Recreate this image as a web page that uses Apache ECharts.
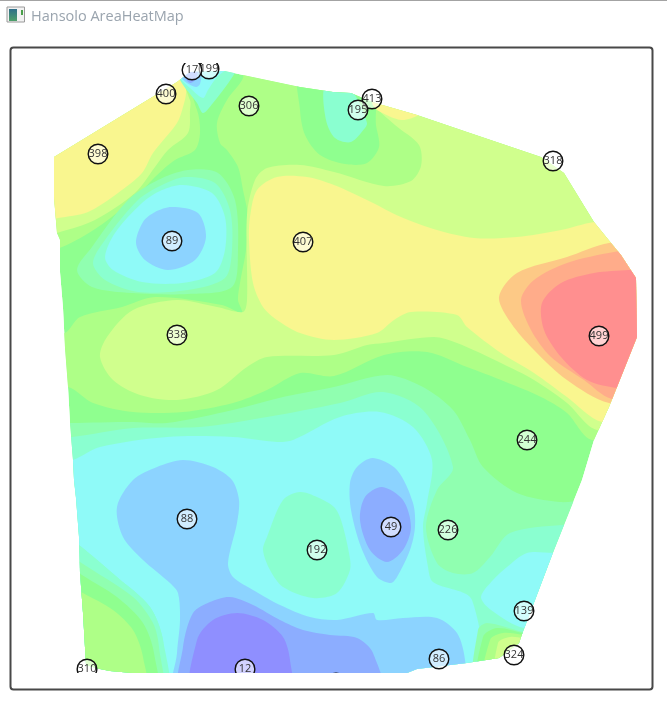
<!DOCTYPE html>
<html>
<head>
<meta charset="utf-8">
<style>
    html, body { margin: 0; padding: 0; background: #fff; }
    #chart { width: 667px; height: 722px; }
</style>
<script src="https://cdn.jsdelivr.net/npm/echarts@6/dist/echarts.min.js"></script>
</head>
<body>
<div id="chart"></div>
<script>
// sample points (unlabelled x/y axes, so screen-like units)
const pointValues = [199, 17, 400, 306, 398, 89, 407, 413, 195, 318, 338, 499, 244, 88, 192, 310, 12, 49, 226, 139, 324, 86, 25]
const pointX = [209, 192, 166, 249, 98, 172, 303, 372, 358, 553, 177, 599, 527, 187, 317, 87, 245, 391, 448, 524, 514, 439, 336]
const pointY = [69, 70, 94, 106, 154, 241, 242, 99, 110, 161, 335, 336, 440, 519, 550, 669, 669, 527, 530, 611, 655, 659, 683]

// heat colours, low to high
const levelColors = ['#8f8fff', '#8cadff', '#8cd3ff', '#8ffaf8', '#8affd0', '#90ffb0', '#8fff8f', '#aeff87', '#d0ff8d', '#f9f68f', '#fdc986', '#ffac8a', '#ff8f8f']

// outline of the measured area
const hull = [[54,157],[177,82],[190,72],[225,71],[243,75],[300,87],[333,92],[351,93],[372,102],[417,115],[467,132],[541,157],[564,173],[594,222],[607,238],[621,255],[636,278],[637,337],[617,387],[609,407],[594,440],[582,480],[554,550],[521,637],[519,643],[499,658],[467,663],[417,669],[402,675],[155,675],[110,671],[100,669],[86,665],[83,613],[80,573],[79,537],[76,498],[74,480],[73,460],[70,423],[68,387],[65,348],[63,308],[60,272],[60,240],[57,233],[54,197]]

// contour bands, painted in order, each one on top of the last
const limeMain = [[243,60],[243,78],[227,100],[217,123],[220,143],[227,150],[238,167],[243,190],[248,217],[246,250],[240,283],[238,300],[242,313],[222,305],[155,297],[122,307],[80,317],[65,333],[45,333],[45,392],[68,387],[93,403],[133,412],[183,412],[233,403],[267,390],[300,373],[334,376],[384,355],[427,352],[467,367],[501,380],[541,397],[567,413],[592,440],[700,445],[700,60]]
const greenBlob = [[300,70],[300,110],[305,135],[320,155],[345,164],[367,163],[379,147],[376,125],[372,90]]
const mintBlob = [[325,85],[326,120],[335,138],[351,142],[365,128],[367,123],[358,100],[345,85]]
const lightMain = [[372,85],[372,102],[395,125],[419,145],[421,166],[411,181],[384,186],[334,172],[300,165],[267,168],[255,180],[247,215],[247,300],[243,312],[217,307],[177,300],[133,310],[107,337],[100,357],[113,380],[140,395],[177,400],[217,390],[247,367],[267,357],[334,355],[367,345],[384,343],[434,337],[457,343],[501,363],[534,380],[567,403],[597,430],[700,435],[700,85]]
const yellowMain = [[249,240],[250,217],[257,190],[277,177],[307,177],[334,185],[367,200],[401,217],[437,230],[474,238],[517,237],[561,230],[594,222],[700,210],[700,427],[602,422],[567,397],[534,373],[501,353],[467,327],[457,315],[411,312],[394,320],[377,333],[334,340],[300,333],[277,320],[263,307],[253,283]]
const yellowWedge = [[372,92],[430,105],[419,115],[401,120],[377,110],[372,103]]
const limeLeft = [[177,72],[197,110],[200,133],[195,150],[175,160],[155,177],[135,198],[98,227],[62,247],[40,250],[40,145]]
const lightLeft = [[175,75],[190,100],[190,110],[188,133],[168,150],[155,167],[135,193],[95,220],[60,232],[40,235],[40,150]]
const yellowLeft = [[178,72],[186,90],[183,107],[177,123],[153,153],[142,173],[118,193],[88,212],[58,218],[40,220],[40,150]]
const mintTip = [[180,70],[180,80],[197,103],[203,113],[213,103],[233,76],[240,60],[180,60]]
const cyanTip = [[178,68],[180,78],[190,88],[203,98],[208,90],[217,77],[230,65],[178,60]]
const skyTip = [[178,66],[180,76],[187,83],[196,87],[200,84],[202,70],[201,60],[178,60]]
const blueTip = [[182,68],[185,78],[190,83],[195,80],[198,68],[190,60]]
const mintLight89 = [[188,170],[218,173],[235,200],[238,250],[232,287],[188,294],[132,293],[92,287],[77,270],[92,247],[128,200],[158,180]]
const mint89 = [[185,177],[215,183],[230,210],[232,250],[225,278],[188,290],[138,292],[105,280],[93,263],[105,240],[138,200],[162,185]]
const cyan89 = [[183,185],[212,193],[225,217],[225,250],[215,273],[182,283],[142,282],[113,270],[105,257],[115,233],[142,203],[162,190]]
const sky89 = [[172,207],[198,213],[206,237],[195,260],[168,270],[145,260],[136,243],[143,222],[155,212]]
const orangeRight = [[700,235],[609,243],[567,257],[517,273],[499,297],[511,323],[534,350],[567,380],[609,403],[700,410]]
const coralRight = [[700,240],[614,252],[567,263],[534,280],[521,300],[531,330],[551,357],[584,380],[612,399],[700,405]]
const redRight = [[700,265],[629,270],[594,273],[561,283],[542,303],[544,330],[561,357],[587,380],[617,388],[700,395]]
const mintLightLower = [[50,423],[70,423],[133,422],[167,423],[233,410],[283,397],[334,387],[387,375],[423,387],[453,410],[470,440],[483,467],[517,493],[560,502],[620,503],[620,700],[50,700]]
const mintLower = [[50,437],[72,437],[133,428],[200,427],[267,417],[340,403],[383,392],[423,410],[453,467],[437,490],[426,527],[437,563],[453,573],[473,573],[490,557],[510,533],[562,525],[620,523],[620,700],[50,700]]
const cyanLower = [[50,464],[73,460],[100,447],[167,437],[233,437],[277,442],[293,440],[340,417],[380,412],[413,427],[432,460],[427,503],[423,527],[428,567],[433,582],[472,600],[472,690],[165,690],[163,640],[150,607],[117,577],[79,545],[50,525]]
const cyan139 = [[600,553],[553,553],[527,553],[507,567],[493,580],[481,597],[491,610],[524,628],[600,630]]
const mintLight324 = [[477,690],[478,630],[487,623],[523,632],[560,640],[560,690]]
const green324 = [[480,690],[483,637],[497,628],[523,633],[560,640],[560,690]]
const lime324 = [[485,690],[490,640],[503,633],[523,635],[560,640],[560,690]]
const light324 = [[497,690],[498,643],[510,637],[523,638],[560,642],[560,690]]
const mintSW = [[50,520],[79,545],[117,577],[150,607],[163,640],[165,700],[50,700]]
const mintLightSW = [[50,540],[80,562],[133,597],[153,623],[159,647],[160,700],[50,700]]
const greenSW = [[50,552],[82,575],[117,597],[143,623],[154,653],[155,700],[50,700]]
const limeSW = [[50,575],[83,593],[113,610],[133,630],[143,657],[145,700],[50,700]]
const sky88 = [[117,507],[123,537],[143,560],[170,583],[178,593],[180,620],[177,653],[175,700],[465,700],[465,660],[457,633],[437,618],[403,618],[377,620],[373,613],[337,620],[310,617],[280,605],[253,590],[233,577],[228,563],[237,523],[239,500],[232,480],[213,467],[183,460],[157,467],[133,480]]
const blue12 = [[182,700],[183,647],[193,613],[210,602],[230,597],[253,605],[280,620],[303,630],[330,635],[357,638],[373,653],[381,700]]
const violet12 = [[193,700],[197,640],[213,620],[237,613],[263,620],[283,637],[290,660],[290,700]]
const sky49 = [[350,483],[357,467],[373,458],[397,470],[413,503],[415,527],[410,550],[397,577],[391,583],[377,577],[361,547],[351,510]]
const blue49 = [[382,487],[403,500],[411,527],[403,550],[387,562],[370,550],[360,520],[365,497]]
const mint192 = [[300,492],[283,500],[267,537],[263,550],[270,570],[283,587],[313,598],[337,593],[350,570],[349,553],[341,520],[334,507],[317,497]]

const bandRings = [hull, limeMain, greenBlob, mintBlob, lightMain, yellowMain, yellowWedge, limeLeft, lightLeft, yellowLeft, mintTip, cyanTip, skyTip, blueTip, mintLight89, mint89, cyan89, sky89, orangeRight, coralRight, redRight, mintLightLower, mintLower, cyanLower, cyan139, mintLight324, green324, lime324, light324, mintSW, mintLightSW, greenSW, limeSW, sky88, blue12, violet12, sky49, blue49, mint192]
const bandLevels = [6, 7, 6, 4, 8, 9, 9, 7, 8, 9, 4, 3, 2, 1, 5, 4, 3, 2, 10, 11, 12, 5, 4, 3, 3, 5, 6, 7, 8, 4, 5, 6, 7, 2, 1, 0, 2, 1, 4]

const chart = echarts.init(document.getElementById('chart'))

function toPoints(api, ring) {
    return ring.map(p => api.coord(p))
}

const option = {
    animation: false,
    title: {
        text: 'Hansolo AreaHeatMap',
        left: 31,
        top: 9,
        padding: 0,
        textStyle: { color: '#9aa4ae', fontSize: 14.5, fontWeight: 'normal', fontFamily: 'Open Sans' }
    },
    grid: { left: 11, top: 63, width: 640, height: 610 },
    xAxis: { type: 'value', min: 11, max: 651, show: false },
    yAxis: { type: 'value', min: 63, max: 673, inverse: true, show: false },
    graphic: [
        { type: 'rect', shape: { x: 0, y: 0, width: 667, height: 1 }, style: { fill: '#a3a3a3' } },
        { type: 'rect', shape: { x: 7, y: 7, width: 17.5, height: 15 }, style: { fill: '#f2f2f2', stroke: '#9a9a9a', lineWidth: 1 } },
        {
            type: 'rect',
            shape: { x: 9, y: 9, width: 8, height: 12 },
            style: {
                fill: {
                    type: 'linear', x: 0, y: 0, x2: 0, y2: 1,
                    colorStops: [{ offset: 0, color: '#2f6f8a' }, { offset: 1, color: '#4fa06a' }]
                }
            }
        },
        { type: 'rect', shape: { x: 21, y: 10, width: 2, height: 5 }, style: { fill: '#4aa04a' } },
        { type: 'rect', z: 10, shape: { x: 10.5, y: 47.5, width: 642, height: 642, r: 3 }, style: { fill: 'none', stroke: '#484848', lineWidth: 2 } }
    ],
    series: [
        {
            type: 'custom',
            clip: true,
            silent: true,
            z: 2,
            data: bandRings.map((ring, i) => [i, bandLevels[i]]),
            renderItem(params, api) {
                const ring = bandRings[api.value(0)]
                return {
                    type: 'polygon',
                    shape: { points: toPoints(api, ring), smooth: ring === hull ? 0 : 0.3 },
                    style: { fill: levelColors[api.value(1)] },
                    clipPath: { type: 'polygon', shape: { points: toPoints(api, hull) } }
                }
            }
        },
        {
            type: 'custom',
            clip: true,
            silent: true,
            z: 4,
            data: pointValues.map((v, i) => [pointX[i], pointY[i], v]),
            renderItem(params, api) {
                const c = api.coord([api.value(0), api.value(1)])
                return {
                    type: 'group',
                    children: [
                        { type: 'circle', shape: { cx: c[0], cy: c[1], r: 9.8 }, style: { fill: 'rgba(255,255,255,0.6)', stroke: '#111', lineWidth: 1.4 } },
                        { type: 'text', style: { x: c[0], y: c[1], text: String(api.value(2)), align: 'center', verticalAlign: 'middle', fill: '#333', font: '11px "Open Sans"' } }
                    ]
                }
            }
        }
    ]
}
chart.setOption(option)
</script>
</body>
</html>
